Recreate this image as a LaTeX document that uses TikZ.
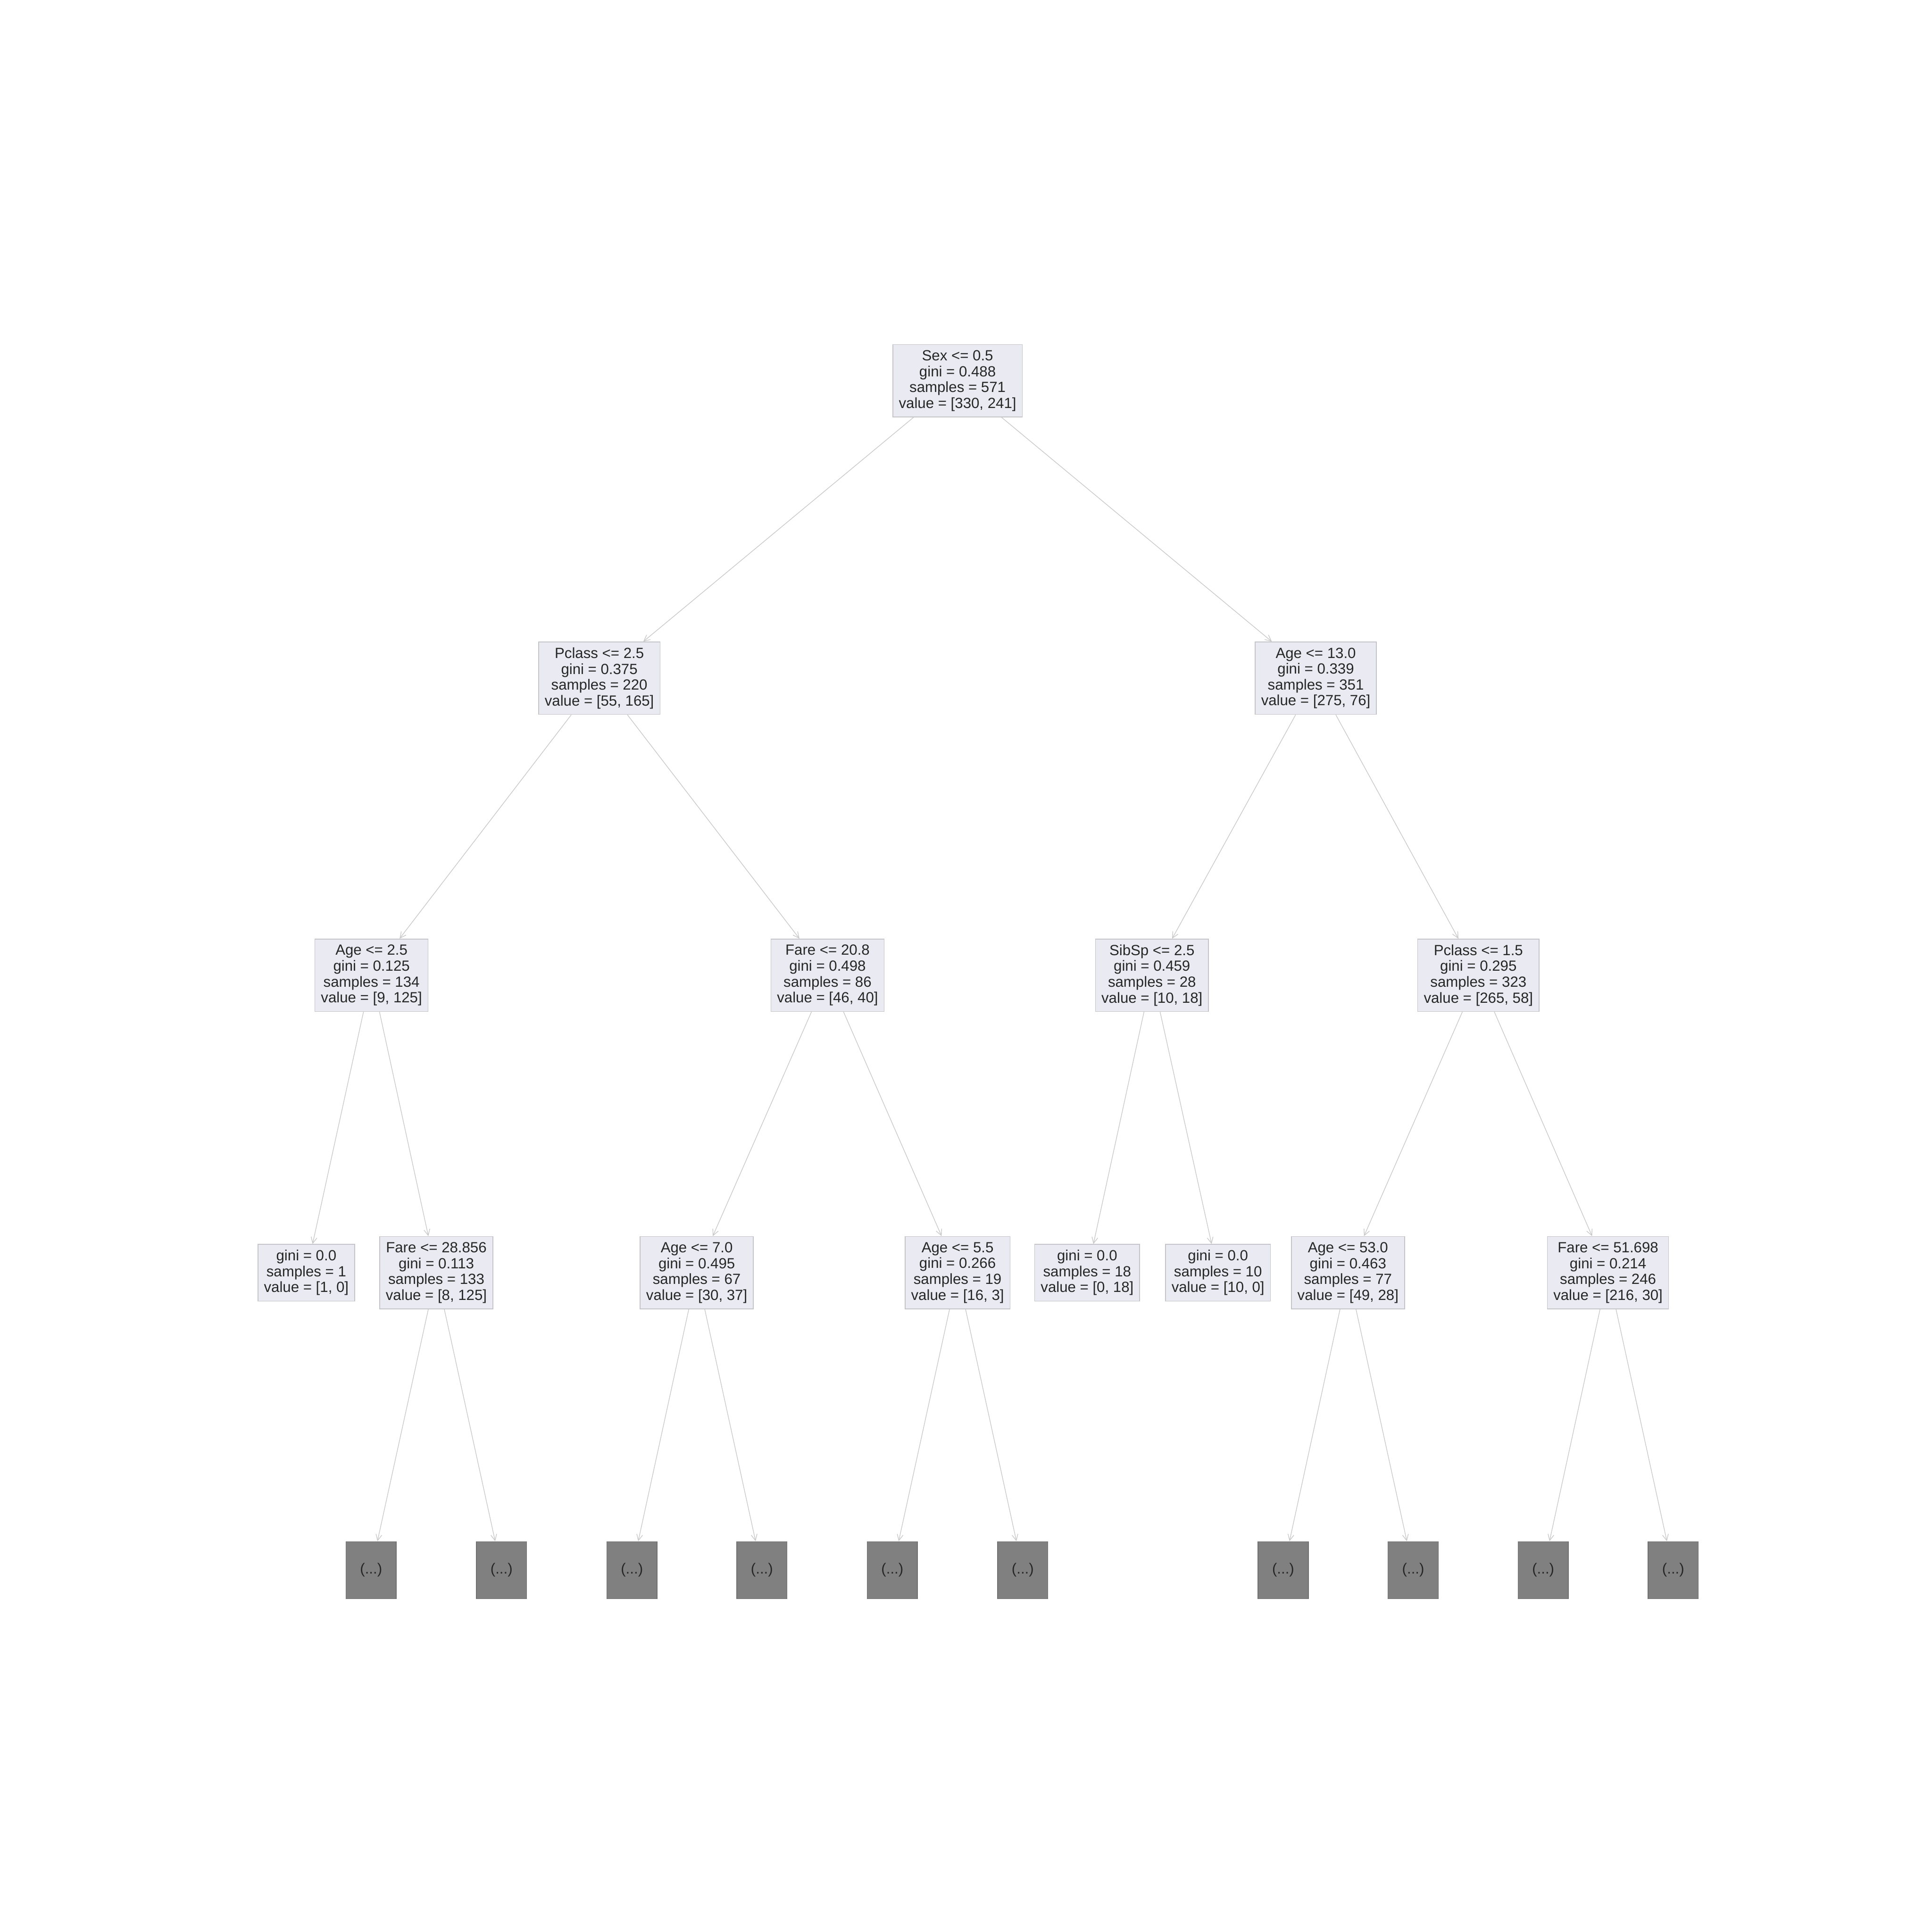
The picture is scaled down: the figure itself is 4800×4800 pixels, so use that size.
\documentclass[tikz,border=0pt]{standalone}
\usepackage{fontspec}
\setmainfont{Liberation Sans}
\usetikzlibrary{arrows.meta}
\definecolor{boxfill}{HTML}{EAEAF2}
\definecolor{boxedge}{HTML}{C4C4C8}
\definecolor{txt}{HTML}{262626}
\definecolor{graybox}{HTML}{808080}
\definecolor{grayedge}{HTML}{707070}
\definecolor{edgecol}{HTML}{C8C8C8}
\tikzset{
  tnode/.style={draw=boxedge, fill=boxfill, line width=0.5pt, text=txt, align=center,
    font=\fontsize{10.4}{11.2}\selectfont, inner xsep=0.15cm, inner ysep=0pt, minimum height=1.8cm},
  leaf/.style={tnode, minimum height=1.41cm},
  more/.style={draw=grayedge, fill=graybox, line width=0.5pt, text=txt,
    font=\fontsize{10.4}{11.2}\selectfont, minimum width=1.25cm, minimum height=1.42cm, inner sep=0pt},
  conn/.style={draw=edgecol, line width=0.45pt, -{Straight Barb[length=4.3pt,width=4.2pt]}}
}
\begin{document}
\begin{tikzpicture}[x=0.01cm, y=-0.01cm]
\fill[white] (0,0) rectangle (4800,4800);
\useasboundingbox (0,0) rectangle (4800,4800);
% level 0
\node[tnode] (root) at (2379,946) {Sex <= 0.5\\gini = 0.488\\samples = 571\\value = [330, 241]};
% level 1
\node[tnode] (p1) at (1489,1685) {Pclass <= 2.5\\gini = 0.375\\samples = 220\\value = [55, 165]};
\node[tnode] (a1) at (3269,1685) {Age <= 13.0\\gini = 0.339\\samples = 351\\value = [275, 76]};
% level 2
\node[tnode] (a2) at (923,2423) {Age <= 2.5\\gini = 0.125\\samples = 134\\value = [9, 125]};
\node[tnode] (f2) at (2056,2423) {Fare <= 20.8\\gini = 0.498\\samples = 86\\value = [46, 40]};
\node[tnode] (s2) at (2862,2423) {SibSp <= 2.5\\gini = 0.459\\samples = 28\\value = [10, 18]};
\node[tnode] (p2) at (3673,2423) {Pclass <= 1.5\\gini = 0.295\\samples = 323\\value = [265, 58]};
% level 3
\node[leaf] (l1) at (761,3162) {gini = 0.0\\samples = 1\\value = [1, 0]};
\node[tnode] (f3) at (1084,3162) {Fare <= 28.856\\gini = 0.113\\samples = 133\\value = [8, 125]};
\node[tnode] (a3) at (1731,3162) {Age <= 7.0\\gini = 0.495\\samples = 67\\value = [30, 37]};
\node[tnode] (a4) at (2379,3162) {Age <= 5.5\\gini = 0.266\\samples = 19\\value = [16, 3]};
\node[leaf] (l2) at (2701,3162) {gini = 0.0\\samples = 18\\value = [0, 18]};
\node[leaf] (l3) at (3026,3162) {gini = 0.0\\samples = 10\\value = [10, 0]};
\node[tnode] (a5) at (3349,3162) {Age <= 53.0\\gini = 0.463\\samples = 77\\value = [49, 28]};
\node[tnode] (f5) at (3995,3162) {Fare <= 51.698\\gini = 0.214\\samples = 246\\value = [216, 30]};
% level 4
\node[more] (g1) at (922,3901) {(...)};
\node[more] (g2) at (1246,3901) {(...)};
\node[more] (g3) at (1570,3901) {(...)};
\node[more] (g4) at (1893,3901) {(...)};
\node[more] (g5) at (2217,3901) {(...)};
\node[more] (g6) at (2541,3901) {(...)};
\node[more] (g7) at (3188,3901) {(...)};
\node[more] (g8) at (3511,3901) {(...)};
\node[more] (g9) at (3834,3901) {(...)};
\node[more] (g10) at (4157,3901) {(...)};
% connectors
\draw[conn] (root) -- (p1);
\draw[conn] (root) -- (a1);
\draw[conn] (p1) -- (a2);
\draw[conn] (p1) -- (f2);
\draw[conn] (a1) -- (s2);
\draw[conn] (a1) -- (p2);
\draw[conn] (a2) -- (l1);
\draw[conn] (a2) -- (f3);
\draw[conn] (f2) -- (a3);
\draw[conn] (f2) -- (a4);
\draw[conn] (s2) -- (l2);
\draw[conn] (s2) -- (l3);
\draw[conn] (p2) -- (a5);
\draw[conn] (p2) -- (f5);
\draw[conn] (f3) -- (g1);
\draw[conn] (f3) -- (g2);
\draw[conn] (a3) -- (g3);
\draw[conn] (a3) -- (g4);
\draw[conn] (a4) -- (g5);
\draw[conn] (a4) -- (g6);
\draw[conn] (a5) -- (g7);
\draw[conn] (a5) -- (g8);
\draw[conn] (f5) -- (g9);
\draw[conn] (f5) -- (g10);
\end{tikzpicture}
\end{document}
